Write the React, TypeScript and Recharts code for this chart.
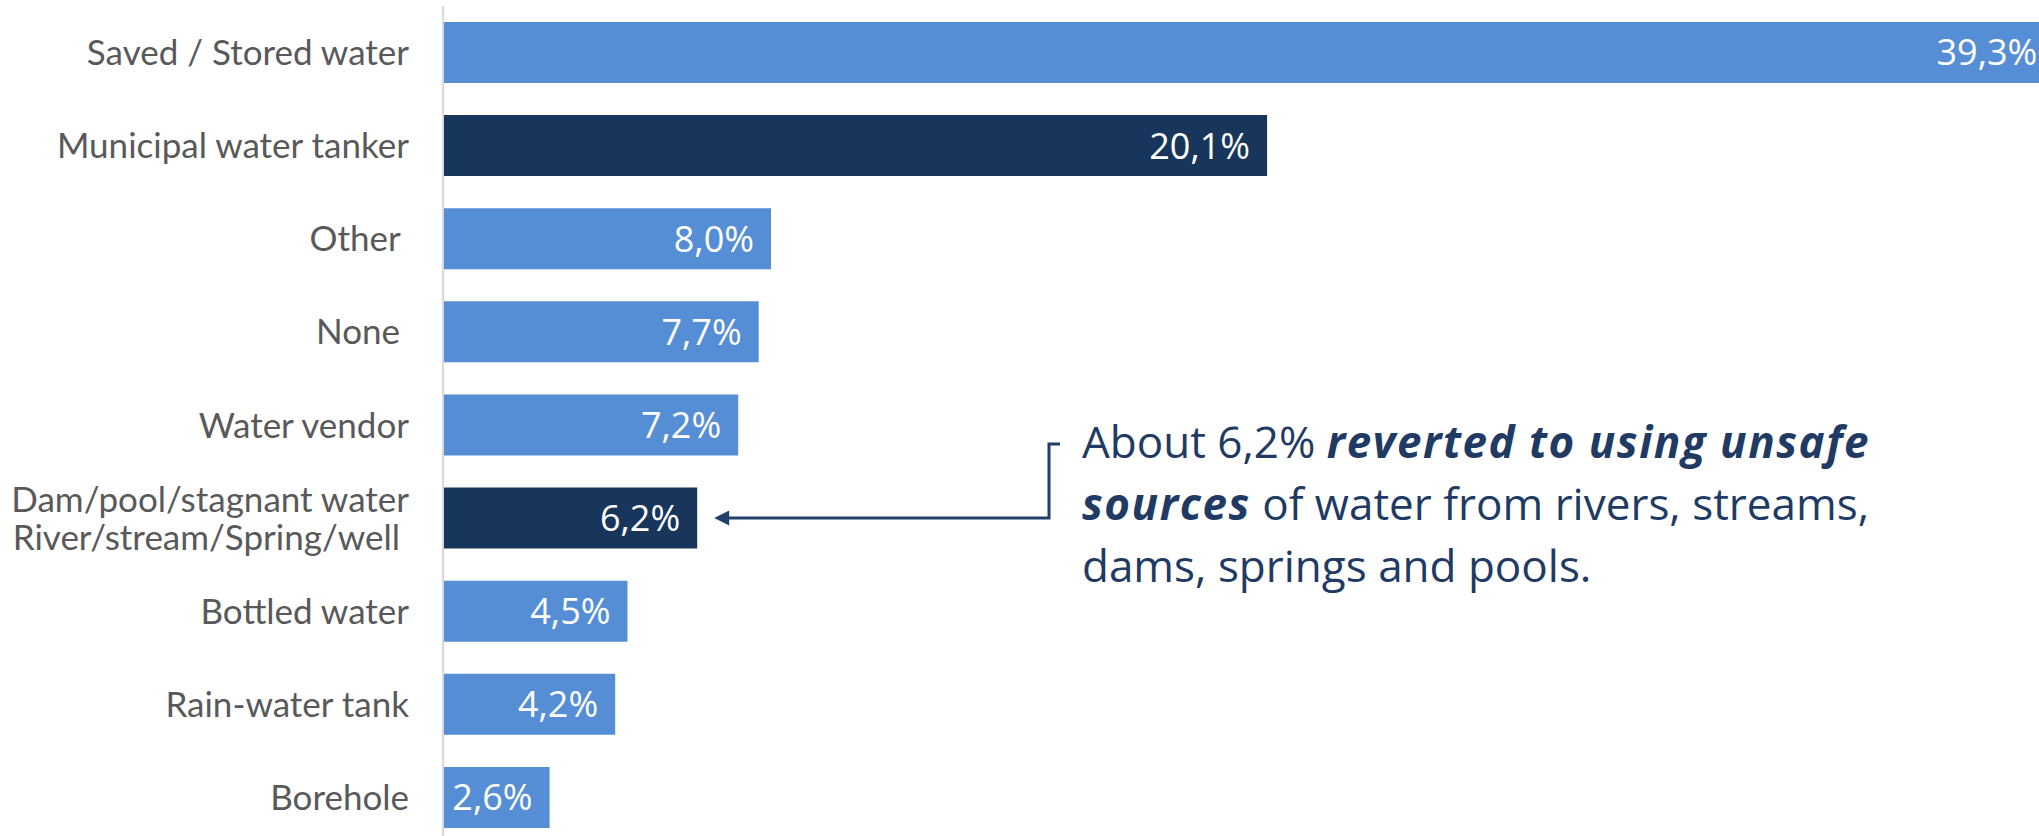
import React from 'react';
import { BarChart, Bar, XAxis, YAxis, Cell, LabelList } from 'recharts';

// water sources (trailing spaces are in the original labels)
const categories = [
  'Saved / Stored water',
  'Municipal water tanker',
  'Other ',
  'None ',
  'Water vendor',
  'Dam/pool/stagnant water\nRiver/stream/Spring/well ',
  'Bottled water',
  'Rain-water tank',
  'Borehole',
];
const shares = [39.3, 20.1, 8.0, 7.7, 7.2, 6.2, 4.5, 4.2, 2.6];
const highlighted = [1, 5];
const annotatedIndex = 5;
const xDomain = [0, 40];

const data = categories.map((name, i) => ({ name, value: shares[i] }));

const lightBlue = '#558ed5';
const darkBlue = '#18365c';
const navyText = '#1f3a63';
const tickFont = 'Lato, "Open Sans", sans-serif';
const textFont = '"Open Sans", Lato, sans-serif';

const fmt = (v: number) => `${v.toFixed(1).replace('.', ',')}%`;

const CategoryTick = (props: any) => {
  const { x, y, payload } = props;
  const lines: string[] = String(payload.value).split('\n');
  const lh = 38;
  const start = -((lines.length - 1) * lh) / 2;
  return (
    <text
      x={x - 34}
      y={y}
      textAnchor="end"
      fill="#595959"
      fontSize={35}
      fontFamily={tickFont}
      style={{ whiteSpace: 'pre' }}
    >
      {lines.map((l, i) => (
        <tspan key={i} x={x - 34} y={y + start + i * lh} dy="0.36em">
          {l}
        </tspan>
      ))}
    </text>
  );
};

const ValueLabel = (props: any) => {
  const { x, y, width, height, value } = props;
  return (
    <text
      x={x + width - 17}
      y={y + height / 2}
      dy="0.36em"
      textAnchor="end"
      fill="#ffffff"
      fontSize={36}
      fontFamily={textFont}
    >
      {fmt(value)}
    </text>
  );
};

// callout pointing at the unsafe-sources bar
const Callout = (props: any) => {
  const { x, y, width, height, index } = props;
  if (index !== annotatedIndex) return null;
  const tipX = x + width + 17;
  const tipY = y + height / 2;
  const bx = 1049;
  const topY = tipY - 74;
  const tx = bx + 33;
  const base = topY + 14;
  return (
    <g>
      <path
        d={`M${bx + 11},${topY} L${bx},${topY} L${bx},${tipY} L${tipX + 12},${tipY}`}
        fill="none"
        stroke="#203f66"
        strokeWidth={3}
      />
      <path d={`M${tipX},${tipY} L${tipX + 15},${tipY - 7.5} L${tipX + 15},${tipY + 7.5} Z`} fill="#203f66" />
      <text fontFamily={textFont} fontSize={44} fill={navyText}>
        <tspan x={tx} y={base}>
          About 6,2%{' '}
        </tspan>
        <tspan fontWeight={700} fontStyle="italic" letterSpacing={1.5}>
          reverted to using unsafe
        </tspan>
        <tspan x={tx} y={base + 62} fontWeight={700} fontStyle="italic" letterSpacing={1.5}>
          sources
        </tspan>
        <tspan> of water from rivers, streams,</tspan>
        <tspan x={tx} y={base + 124}>
          dams, springs and pools.
        </tspan>
      </text>
    </g>
  );
};

export default function App() {
  return (
    <div
      style={{
        position: 'fixed',
        left: 0,
        top: 0,
        width: 2039,
        height: 836,
        overflow: 'hidden',
        background: '#ffffff',
      }}
    >
      <BarChart
        width={2083}
        height={850}
        data={data}
        layout="vertical"
        margin={{ top: 6, right: 0, bottom: 6, left: 0 }}
      >
        <XAxis type="number" domain={xDomain} hide />
        <YAxis
          type="category"
          dataKey="name"
          width={443}
          tickLine={false}
          tickSize={0}
          tickMargin={0}
          axisLine={{ stroke: '#d9d9d9', strokeWidth: 2 }}
          tick={<CategoryTick />}
          interval={0}
        />
        <Bar dataKey="value" barSize={61} isAnimationActive={false}>
          {data.map((d, i) => (
            <Cell key={d.name} fill={highlighted.includes(i) ? darkBlue : lightBlue} />
          ))}
          <LabelList dataKey="value" content={<ValueLabel />} />
          <LabelList dataKey="value" content={<Callout />} />
        </Bar>
      </BarChart>
    </div>
  );
}
